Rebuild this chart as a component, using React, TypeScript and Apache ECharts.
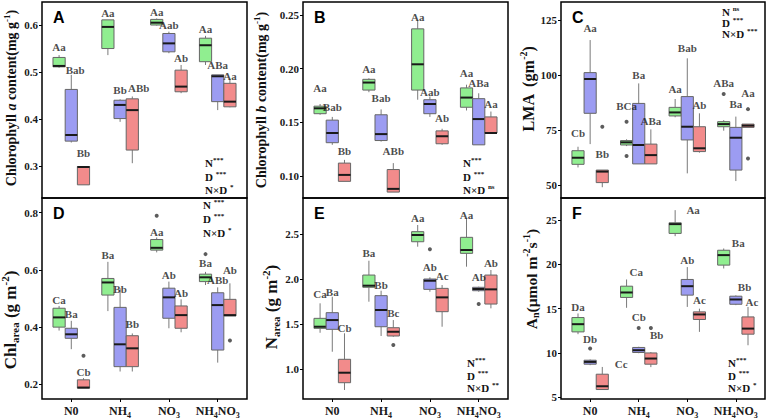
import React, { useEffect, useRef } from 'react';
import * as echarts from 'echarts';

const serif = '"Liberation Serif", "Times New Roman", serif';
const sans = '"Liberation Sans", Arial, sans-serif';

// treatments drawn side by side inside each N-form group
const treatColors = ['#90ee90', '#9c9cf2', '#f28b8b'];
const xLabels = ['{t|N0}', '{t|NH}{s|4}', '{t|NO}{s|3}', '{t|NH}{s|4}{t|NO}{s|3}'];

// every box row: [min, Q1, median, Q3, max] for N0, NH4, NO3, NH4NO3

// A - Chlorophyll a content
const chlAGreen = [[0.509, 0.511, 0.513, 0.531, 0.536], [0.536, 0.55, 0.596, 0.611, 0.611], [0.599, 0.6, 0.605, 0.612, 0.614], [0.515, 0.522, 0.557, 0.572, 0.577]];
const chlABlue = [[0.35, 0.353, 0.366, 0.463, 0.494], [0.394, 0.401, 0.43, 0.44, 0.442], [0.54, 0.543, 0.561, 0.582, 0.586], [0.419, 0.437, 0.491, 0.494, 0.494]];
const chlARed = [[0.26, 0.26, 0.298, 0.299, 0.3], [0.306, 0.334, 0.419, 0.443, 0.448], [0.455, 0.458, 0.469, 0.504, 0.515], [0.425, 0.426, 0.437, 0.476, 0.486]];
const chlALetters = [['Aa', 'Aa', 'Aa', 'Aa'], ['Bab', 'Bb', 'Aab', 'ABa'], ['Bb', 'ABb', 'Ab', 'Aa']];
const chlALetterY = [[0.554, 0.625, 0.628, 0.591], [0.504, 0.462, 0.6, 0.515], [0.327, 0.465, 0.529, 0.491]];
const chlALetterShift = [[0, 0, 0, 0], [0.08, 0, 0, 0], [0, 0.13, 0, 0]];

// B - Chlorophyll b content
const chlBGreen = [[0.157, 0.158, 0.163, 0.165, 0.167], [0.178, 0.18, 0.187, 0.19, 0.191], [0.171, 0.18, 0.204, 0.237, 0.245], [0.161, 0.164, 0.173, 0.182, 0.185]];
const chlBBlue = [[0.129, 0.131, 0.14, 0.152, 0.155], [0.132, 0.133, 0.139, 0.157, 0.162], [0.155, 0.158, 0.167, 0.171, 0.174], [0.129, 0.129, 0.153, 0.172, 0.177]];
const chlBRed = [[0.095, 0.095, 0.101, 0.112, 0.115], [0.085, 0.085, 0.088, 0.106, 0.112], [0.129, 0.13, 0.137, 0.142, 0.144], [0.14, 0.14, 0.14, 0.155, 0.16]];
const chlBLetters = [['Aa', 'Aa', 'Aa', 'Aa'], ['Bab', 'Bab', 'Aab', 'ABa'], ['Bb', 'ABb', 'Ab', 'Aa']];
const chlBLetterY = [[0.182, 0.2, 0.248, 0.196], [0.164, 0.173, 0.178, 0.187], [0.123, 0.123, 0.154, 0.167]];

// C - LMA
const lmaGreen = [[58, 59.4, 62.4, 65.6, 67.4], [67.7, 68.2, 69.4, 70.2, 70.8], [80.8, 81.4, 83, 85.3, 89.1], [74.7, 76.5, 77.7, 78.8, 79.5]];
const lmaBlue = [[68.6, 82.6, 98.2, 101.1, 115.9], [59.6, 59.6, 68.2, 87.1, 96.2], [55.3, 70.5, 76.5, 90.2, 107.6], [51.8, 56.8, 71.5, 76.2, 81.1]];
const lmaRed = [[49, 51.1, 56.1, 56.8, 56.8], [59.6, 59.6, 63.6, 68.6, 75.3], [64.7, 65.2, 66.7, 76.5, 82.6], [76.2, 76.2, 77, 77.7, 77.7]];
const lmaLetters = [['Cb', 'BCa', 'Aa', 'ABa'], ['Aa', 'Ba', 'Bab', 'Ba'], ['Bb', 'ABa', 'Ab', 'Aa']];
const lmaLetterY = [[73.5, 85.9, 93.5, 96.5], [121.2, 100, 112.4, 86.8], [63.9, 79.2, 86.4, 91.7]];
// [group, treatment, value]
const lmaOutliers = [[0, 2, 76.5], [1, 0, 78.8], [1, 0, 63.2], [3, 0, 91.4], [3, 2, 84.5], [3, 2, 62.1]];

// D - Chl area
const chlAreaGreen = [[0.388, 0.4, 0.434, 0.466, 0.474], [0.456, 0.512, 0.556, 0.57, 0.628], [0.661, 0.669, 0.677, 0.706, 0.713], [0.547, 0.559, 0.574, 0.585, 0.593]];
const chlAreaBlue = [[0.323, 0.361, 0.375, 0.396, 0.422], [0.245, 0.262, 0.34, 0.469, 0.536], [0.396, 0.431, 0.504, 0.536, 0.559], [0.276, 0.32, 0.477, 0.52, 0.539]];
const chlAreaRed = [[0.187, 0.187, 0.189, 0.216, 0.222], [0.245, 0.262, 0.326, 0.37, 0.378], [0.382, 0.396, 0.442, 0.474, 0.497], [0.439, 0.439, 0.442, 0.497, 0.553]];
const chlAreaLetters = [['Ca', 'Ba', 'Aa', 'Ba'], ['Ba', 'Bb', 'Ab', 'ABb'], ['Cb', 'Bb', 'Ab', 'Ab']];
const chlAreaLetterY = [[0.495, 0.652, 0.733, 0.625], [0.446, 0.532, 0.582, 0.565], [0.245, 0.411, 0.52, 0.599]];
const chlAreaOutliers = [[0, 2, 0.3], [2, 0, 0.789], [3, 0, 0.655], [3, 2, 0.353]];

// E - N area
const nAreaGreen = [[1.403, 1.452, 1.47, 1.563, 1.73], [1.748, 1.908, 1.926, 2.044, 2.203], [2.359, 2.414, 2.489, 2.526, 2.6], [2.137, 2.285, 2.322, 2.463, 2.674]];
const nAreaBlue = [[1.192, 1.441, 1.544, 1.626, 1.803], [1.367, 1.47, 1.656, 1.815, 1.87], [1.859, 1.885, 1.981, 2.0, 2.019], [1.859, 1.87, 1.889, 1.908, 1.915]];
const nAreaRed = [[0.767, 0.848, 0.959, 1.108, 1.397], [1.359, 1.367, 1.414, 1.459, 1.544], [1.47, 1.637, 1.796, 1.896, 1.933], [1.674, 1.722, 1.885, 2.044, 2.1]];
const nAreaLetters = [['Ca', 'Ba', 'Aa', 'Aa'], ['Ba', 'Bb', 'Ab', 'Ab'], ['Cb', 'Bc', 'Ac', 'Ab']];
const nAreaLetterY = [[1.833, 2.285, 2.674, 2.711], [1.859, 1.933, 2.137, 2.019], [1.459, 1.626, 2.033, 2.174]];
const nAreaOutliers = [[1, 2, 1.267], [2, 1, 2.33], [3, 1, 1.722]];

// F - An
const anGreen = [[12.12, 12.38, 13.25, 14.0, 14.46], [15.1, 16.27, 16.83, 17.54, 18.3], [23.19, 23.5, 24.55, 24.7, 26.13], [19.54, 19.92, 21.05, 21.6, 21.8]];
const anBlue = [[8.62, 8.73, 8.99, 9.18, 9.26], [9.97, 10.05, 10.31, 10.62, 10.7], [15.2, 16.53, 17.54, 18.3, 19.7], [15.4, 15.5, 16.04, 16.41, 16.5]];
const anRed = [[5.87, 5.87, 6.24, 7.6, 8.42], [8.4, 8.73, 9.37, 10.0, 10.1], [12.38, 13.78, 14.35, 14.64, 15.0], [10.87, 12.12, 12.75, 14.07, 15.2]];
const anLetters = [['Da', 'Ca', 'Aa', 'Ba'], ['Db', 'Cb', 'Ab', 'Bb'], ['Cc', 'Bb', 'Ac', 'Ac']];
const anLetterY = [[15.2, 19.16, 26.13, 22.4], [11.52, 14.07, 20.5, 17.4], [8.73, 12.08, 15.96, 15.8]];
const anLetterShift = [[0, 0.2, 0.37, 0.3], [0, 0, 0, 0.18], [0.39, 0.12, 0, 0.08]];
const anOutliers = [[0, 1, 10.5], [1, 1, 12.83], [1, 2, 12.83]];

const panels = [
  {
    tag: 'A', grid: { left: 42, top: 2, width: 205, height: 196 }, bottom: false,
    boxes: [chlAGreen, chlABlue, chlARed], letters: chlALetters, letterY: chlALetterY, letterShift: chlALetterShift,
    outliers: [] as number[][],
    yMin: 0.232, yMax: 0.649, ticks: [0.3, 0.4, 0.5, 0.6], digits: 1,
    name: '{t|Chlorophyll }{i|a}{t| content(mg g}{sup|-1}{t|)}', nameAt: [11, 98], nameSize: 14,
    stats: [['N', '***'], ['D ', '***'], ['N×D ', '*']], statsAt: [205, 163, 13.5],
  },
  {
    tag: 'B', grid: { left: 303, top: 2, width: 205, height: 196 }, bottom: false,
    boxes: [chlBGreen, chlBBlue, chlBRed], letters: chlBLetters, letterY: chlBLetterY, outliers: [] as number[][],
    yMin: 0.0795, yMax: 0.262, ticks: [0.1, 0.15, 0.2, 0.25], digits: 2,
    name: '{t|Chlorophyll }{i|b}{t| content(mg g}{sup|-1}{t|)}', nameAt: [261, 100], nameSize: 14,
    stats: [['N', '***'], ['D ', '***'], ['N×D ', 'ns']], statsAt: [463, 163, 13.5],
  },
  {
    tag: 'C', grid: { left: 561, top: 2, width: 204, height: 196 }, bottom: false,
    boxes: [lmaGreen, lmaBlue, lmaRed], letters: lmaLetters, letterY: lmaLetterY, outliers: lmaOutliers,
    yMin: 44.1, yMax: 133.2, ticks: [50, 75, 100, 125], digits: 0,
    name: '{t|LMA  (gm}{sup|-2}{t|)}', nameAt: [528, 89], nameSize: 16,
    stats: [['N ', 'ns'], ['D ', '***'], ['N×D ', '***']], statsAt: [722, 12, 11],
  },
  {
    tag: 'D', grid: { left: 42, top: 198, width: 205, height: 201 }, bottom: true,
    boxes: [chlAreaGreen, chlAreaBlue, chlAreaRed], letters: chlAreaLetters, letterY: chlAreaLetterY, outliers: chlAreaOutliers,
    yMin: 0.149, yMax: 0.851, ticks: [0.2, 0.4, 0.6, 0.8], digits: 1,
    name: '{t|Chl}{sub|area}{t| (g m}{sup|-2}{t|)}', nameAt: [10, 320], nameSize: 17,
    stats: [['N ', '***'], ['D ', '***'], ['N×D ', '*']], statsAt: [203, 205, 14],
  },
  {
    tag: 'E', grid: { left: 303, top: 198, width: 205, height: 201 }, bottom: true,
    boxes: [nAreaGreen, nAreaBlue, nAreaRed], letters: nAreaLetters, letterY: nAreaLetterY, outliers: nAreaOutliers,
    yMin: 0.667, yMax: 2.9, ticks: [1.0, 1.5, 2.0, 2.5], digits: 1,
    name: '{t|N}{sub|area}{t| (g m}{sup|-2}{t|)}', nameAt: [271, 307], nameSize: 17,
    stats: [['N', '***'], ['D ', '***'], ['N×D ', '**']], statsAt: [467, 363, 12.5],
  },
  {
    tag: 'F', grid: { left: 561, top: 198, width: 204, height: 201 }, bottom: true,
    boxes: [anGreen, anBlue, anRed], letters: anLetters, letterY: anLetterY, letterShift: anLetterShift, outliers: anOutliers,
    yMin: 4.8, yMax: 27.5, ticks: [5, 10, 15, 20, 25], digits: 0,
    name: '{t|A}{sub|n}{t|(μmol m}{sup|-2}{t|s}{sup|-1}{t|)}', nameAt: [531, 279], nameSize: 15.5,
    stats: [['N', '***'], ['D ', '***'], ['N×D ', '*']], statsAt: [728, 363, 12.5],
  },
];

const BOX_STEP = 0.25;

const renderBox = (params: any, api: any) => {
  const x = api.value(0);
  const t = api.value(6);
  const lo = api.coord([x, api.value(1)]);
  const q1 = api.coord([x, api.value(2)]);
  const md = api.coord([x, api.value(3)]);
  const q3 = api.coord([x, api.value(4)]);
  const hi = api.coord([x, api.value(5)]);
  const w = api.size([BOX_STEP, 0])[0];
  const left = lo[0] - w / 2;
  const whisker = { stroke: '#7a7a7a', lineWidth: 1 };
  return {
    type: 'group',
    children: [
      { type: 'line', shape: { x1: lo[0], y1: hi[1], x2: lo[0], y2: q3[1] }, style: whisker },
      { type: 'line', shape: { x1: lo[0], y1: q1[1], x2: lo[0], y2: lo[1] }, style: whisker },
      {
        type: 'rect',
        shape: { x: left, y: q3[1], width: w, height: Math.max(q1[1] - q3[1], 1) },
        style: { fill: treatColors[t], stroke: '#666', lineWidth: 1 },
      },
      { type: 'line', shape: { x1: left, y1: md[1], x2: left + w, y2: md[1] }, style: { stroke: '#1a1a1a', lineWidth: 2 } },
    ],
  };
};

const nameRich = (size: number) => ({
  t: { fontFamily: serif, fontWeight: 'bold', fontSize: size, lineHeight: size + 4 },
  i: { fontFamily: serif, fontWeight: 'bold', fontStyle: 'italic', fontSize: size, lineHeight: size + 4 },
  sup: { fontFamily: serif, fontWeight: 'bold', fontSize: Math.round(size * 0.62), verticalAlign: 'top' },
  sub: { fontFamily: serif, fontWeight: 'bold', fontSize: Math.round(size * 0.62), verticalAlign: 'bottom' },
});

const statRich = {
  b: { fontFamily: serif, fontWeight: 'bold', fontSize: 11, lineHeight: 13 },
  s: { fontFamily: serif, fontWeight: 'bold', fontSize: 7, verticalAlign: 'top' },
};

const App: React.FC = () => {
  const chartRef = useRef<HTMLDivElement>(null);

  useEffect(() => {
    document.body.style.margin = '0';
    if (!chartRef.current) return;
    const chart = echarts.init(chartRef.current, undefined, { renderer: 'svg' });

    const series: any[] = [];
    const graphic: any[] = [];

    panels.forEach((p, i) => {
      const pos = (g: number, t: number) => g + 1 + (t - 1) * BOX_STEP;
      const boxData: number[][] = [];
      p.boxes.forEach((rows, t) => rows.forEach((r, g) => boxData.push([pos(g, t), ...r, t])));
      series.push({
        type: 'custom', xAxisIndex: i, yAxisIndex: i, silent: true,
        renderItem: renderBox, encode: { x: 0, y: [1, 2, 3, 4, 5] }, data: boxData,
      });
      series.push({
        type: 'scatter', xAxisIndex: i, yAxisIndex: i, silent: true, symbolSize: 4,
        itemStyle: { color: '#333' },
        data: p.outliers.map(([g, t, v]) => [pos(g, t), v]),
      });
      const shifts = (p as any).letterShift as number[][] | undefined;
      const letterData: any[] = [];
      p.letters.forEach((row, t) => row.forEach((txt, g) => {
        const shift = shifts ? shifts[t][g] : 0;
        letterData.push({ value: [pos(g, t) + shift, p.letterY[t][g]], name: txt });
      }));
      series.push({
        type: 'scatter', xAxisIndex: i, yAxisIndex: i, silent: true, symbolSize: 1,
        itemStyle: { color: 'rgba(0,0,0,0)' },
        label: {
          show: true, position: 'inside', formatter: '{b}',
          fontFamily: serif, fontWeight: 'bold', fontSize: 11, color: '#1a1a1a',
        },
        data: letterData,
      });

      graphic.push({
        type: 'text', x: p.grid.left + 11, y: p.grid.top + 15,
        style: { text: p.tag, font: `bold 16px ${sans}`, fill: '#000', verticalAlign: 'middle' },
      });
      graphic.push({
        type: 'text', x: p.nameAt[0], y: p.nameAt[1], rotation: Math.PI / 2,
        style: { text: p.name, rich: nameRich(p.nameSize), fill: '#111', align: 'center', verticalAlign: 'middle' },
      });
      const [sx, sy, step] = p.statsAt;
      p.stats.forEach(([main, sup], k) => {
        graphic.push({
          type: 'text', x: sx, y: sy + k * step,
          style: { text: `{b|${main}}{s|${sup}}`, rich: statRich, fill: '#111', verticalAlign: 'middle' },
        });
      });
    });

    const option: any = {
      animation: false,
      grid: panels.map((p) => ({
        ...p.grid, show: true, borderColor: '#000', borderWidth: 1.5, backgroundColor: 'transparent',
      })),
      xAxis: panels.map((p, i) => ({
        type: 'value', gridIndex: i, min: 0.4, max: 4.6,
        axisLine: { show: false }, splitLine: { show: false },
        axisTick: { show: p.bottom, customValues: [1, 2, 3, 4], length: 3, lineStyle: { color: '#000' } },
        axisLabel: {
          show: p.bottom, customValues: [1, 2, 3, 4], margin: 4,
          formatter: (v: number) => xLabels[Math.round(v) - 1],
          rich: {
            t: { fontFamily: serif, fontWeight: 'bold', fontSize: 12, lineHeight: 16, color: '#1a1a1a' },
            s: { fontFamily: serif, fontWeight: 'bold', fontSize: 8, verticalAlign: 'bottom', color: '#1a1a1a' },
          },
        },
      })),
      yAxis: panels.map((p, i) => ({
        type: 'value', gridIndex: i, min: p.yMin, max: p.yMax,
        axisLine: { show: false }, splitLine: { show: false },
        axisTick: { show: true, customValues: p.ticks, length: 3, lineStyle: { color: '#000' } },
        axisLabel: {
          customValues: p.ticks, margin: 4,
          formatter: (v: number) => v.toFixed(p.digits),
          fontFamily: serif, fontWeight: 'bold', fontSize: 11, color: '#1a1a1a',
        },
      })),
      graphic,
      series,
    };

    chart.setOption(option);
    return () => {
      chart.dispose();
    };
  }, []);

  return <div ref={chartRef} style={{ width: 767, height: 419 }} />;
};

export default App;
